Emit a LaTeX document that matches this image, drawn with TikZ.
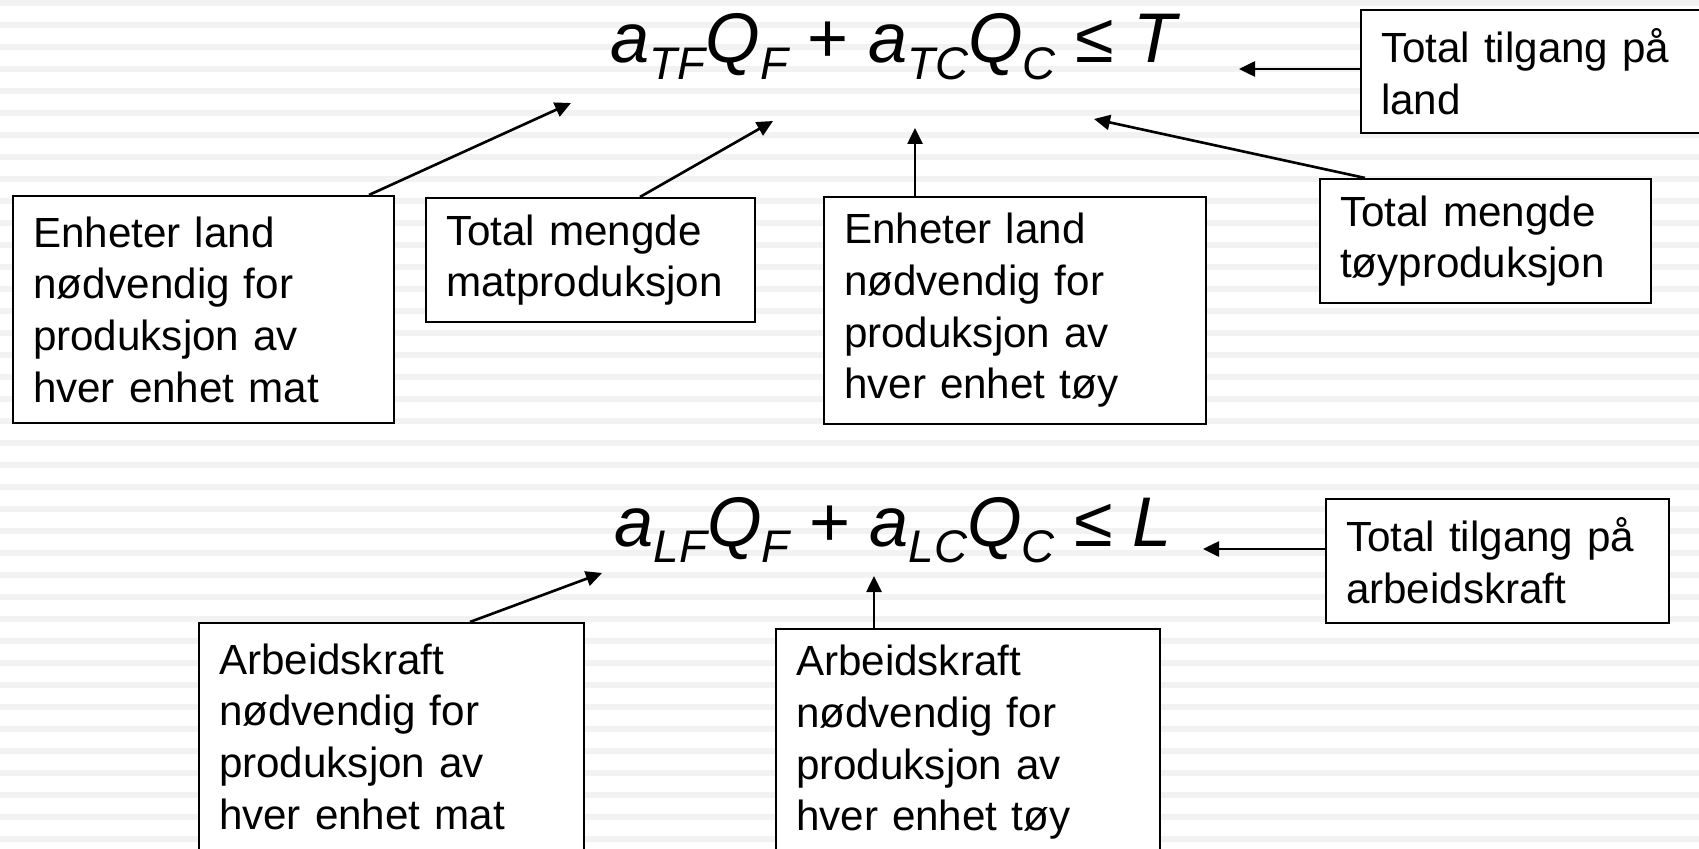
\documentclass[tikz,border=0pt]{standalone}
\usepackage{fontspec}
\setmainfont{Liberation Sans}
\usepackage{tikz}
\usetikzlibrary{arrows.meta}
\newcommand\eqsub[1]{\raisebox{-4.8pt}{\fontsize{13}{13}\selectfont #1}}
\tikzset{
    box/.style={draw, fill=white, line width=0.6pt, align=left, inner xsep=2mm, inner ysep=0pt,
        font=\fontsize{12}{14.7}\selectfont},
    eq/.style={inner sep=0pt, font=\fontsize{20}{24}\selectfont},
    arr/.style={-{Triangle[length=1.6mm, width=1.5mm]}, line width=0.75pt},
    stripe/.style={fill=black!5}
}

\begin{document}
\begin{tikzpicture}[x=0.1mm, y=-0.1mm]
        \useasboundingbox (0,0) rectangle (1699,848);
        \clip (0,0) rectangle (1699,848);
        \fill[white] (0,0) rectangle (1699,848);
        \foreach \k in {0,...,38}
                \fill[stripe] (0,22*\k) rectangle (1699,22*\k+6);

        % land
        \node[eq, anchor=base west] (e1) at (610,63)
                {\itshape a\eqsub{TF}Q\eqsub{F} \upshape+ \itshape a\eqsub{TC}Q\eqsub{C} \upshape≤ \itshape T};
        \node[box, text width=34.1mm, minimum height=22.7mm] (b1) at (203.5,309.5)
                {Enheter land\\nødvendig for\\produksjon av\\hver enhet mat};
        \node[box, text width=28.9mm, minimum height=12.4mm] (b2) at (590.5,260)
                {Total mengde\\matproduksjon};
        \node[box, text width=34.2mm, minimum height=22.7mm] (b3) at (1015,310.5)
                {Enheter land\\nødvendig for\\produksjon av\\hver enhet tøy};
        \node[box, text width=29.1mm, minimum height=12.4mm] (b4) at (1485.5,241)
                {Total mengde\\tøyproduksjon};
        \node[box, text width=31.9mm, minimum height=12.3mm] (b5) at (1540.5,71.5)
                {Total tilgang på\\land};

        \coordinate (t1) at (571,103);
        \coordinate (t2) at (773,121);
        \coordinate (t3) at (915,128);
        \coordinate (t4) at (1094,119);
        \coordinate (t5) at (1239,69);
        \draw[arr] ([xshift=16.55mm]b1.north) -- (t1);
        \draw[arr] ([xshift=4.95mm]b2.north) -- (t2);
        \draw[arr] (t3 |- b3.north) -- (t3);
        \draw[arr] ([xshift=-12.05mm]b4.north) -- (t4);
        \draw[arr] (b5.west |- t5) -- (t5);

        % arbeidskraft
        \node[eq, anchor=base west] (e2) at (614,546)
                {\itshape a\eqsub{LF}Q\eqsub{F} \upshape+ \itshape a\eqsub{LC}Q\eqsub{C} \upshape≤ \itshape L};
        \node[box, text width=30.3mm, minimum height=12.4mm] (b6) at (1497.5,561)
                {Total tilgang på\\arbeidskraft};
        \node[box, text width=34.5mm, minimum height=22.7mm] (b7) at (391.5,736.5)
                {Arbeidskraft\\nødvendig for\\produksjon av\\hver enhet mat};
        \node[box, text width=34.4mm, minimum height=22.7mm] (b8) at (968,742.5)
                {Arbeidskraft\\nødvendig for\\produksjon av\\hver enhet tøy};

        \coordinate (t6) at (602,573);
        \coordinate (t7) at (874,576);
        \coordinate (t8) at (1203,549);
        \draw[arr] ([xshift=7.85mm]b7.north) -- (t6);
        \draw[arr] (t7 |- b8.north) -- (t7);
        \draw[arr] (b6.west |- t8) -- (t8);
\end{tikzpicture}
\end{document}
